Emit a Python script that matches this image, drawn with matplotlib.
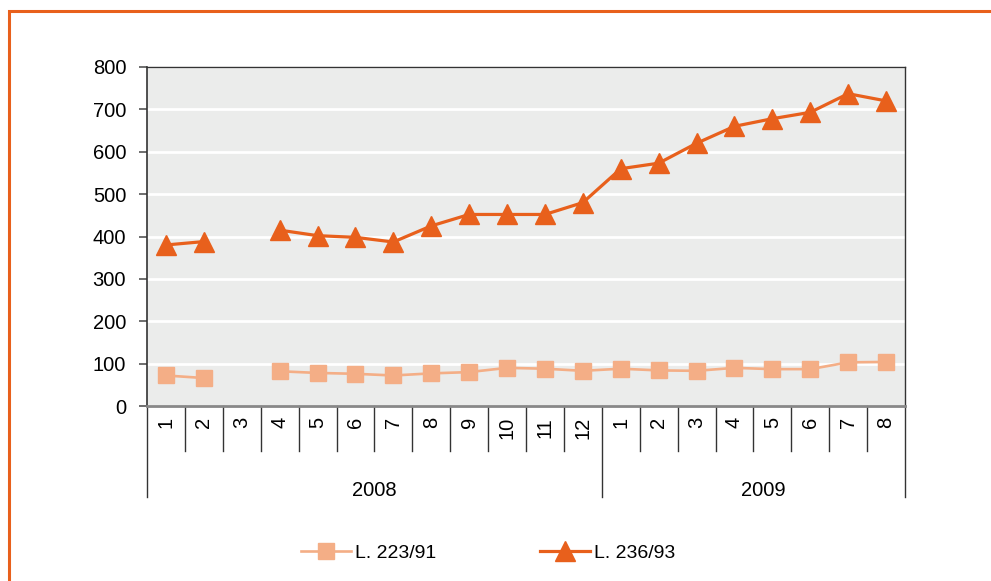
import numpy as np
import matplotlib
matplotlib.use('Agg')
import matplotlib.pyplot as plt
from matplotlib.patches import Rectangle
from matplotlib.transforms import blended_transform_factory

plt.rcParams['font.family'] = ['Liberation Sans', 'DejaVu Sans']

# data
months = ['1', '2', '3', '4', '5', '6', '7', '8', '9', '10', '11', '12',
          '1', '2', '3', '4', '5', '6', '7', '8']
years = ['2008', '2009']
year_sizes = [12, 8]
l223 = [72, 66, np.nan, 82, 78, 76, 72, 77, 80, 90, 88, 83,
        88, 84, 83, 90, 87, 87, 103, 104]
l236 = [380, 388, np.nan, 415, 402, 398, 387, 425, 452, 452, 452, 480,
        560, 573, 620, 660, 678, 693, 737, 720]
y_ticks = [0, 100, 200, 300, 400, 500, 600, 700, 800]

c_light = '#F4AE86'
c_dark = '#E8601C'

W, H = 991, 581
fig = plt.figure(figsize=(W / 100, H / 100), dpi=100)

# orange frame (cut at right and bottom like the reference)
fig.patches.append(Rectangle((9 / W, -0.2), 1.2, 1.2 - 11 / H,
                             transform=fig.transFigure, fill=False,
                             edgecolor=c_dark, linewidth=2.2))

ax = fig.add_axes([147 / W, 1 - 406 / H, 758 / W, 339 / H])
ax.set_facecolor('#EBECEB')
x = np.arange(len(months))

ax.plot(x, l223, color=c_light, lw=1.9, marker='s', ms=12,
        mec=c_light, label='L. 223/91', zorder=3)
ax.plot(x, l236, color=c_dark, lw=2.3, marker='^', ms=14.5,
        mec=c_dark, label='L. 236/93', zorder=4)

ax.set_xlim(-0.5, len(months) - 0.5)
ax.set_ylim(0, 800)
ax.set_yticks(y_ticks)
ax.yaxis.grid(True, color='white', lw=2)
ax.set_axisbelow(True)
ax.tick_params(axis='y', length=6, width=1.2, color='#555555',
               labelsize=14.5, pad=9)
ax.set_xticks(x)
ax.set_xticklabels(months, rotation=90, fontsize=14.5)
ax.tick_params(axis='x', length=0, pad=8)

for s in ['top', 'right']:
    ax.spines[s].set_color('#333333')
    ax.spines[s].set_linewidth(1.0)
ax.spines['left'].set_color('#333333')
ax.spines['left'].set_linewidth(1.2)
ax.spines['bottom'].set_color('#888888')
ax.spines['bottom'].set_linewidth(2)

# category separators and year groups below the axis
tr = blended_transform_factory(ax.transData, ax.transAxes)
short = -45 / 339
long_ = -91 / 339
bounds = [-0.5]
for n in year_sizes:
    bounds.append(bounds[-1] + n)
for b in np.arange(-0.5, len(months)):
    yy = long_ if b in bounds else short
    ax.plot([b, b], [0, yy], transform=tr, color='#333333', lw=1,
            clip_on=False)
year_x = [5.5, 15.75]
for yx, yl in zip(year_x, years):
    ax.text(yx, -84 / 339, yl, transform=tr, ha='center', va='center',
            fontsize=14.5)

fig.legend(loc='center', bbox_to_anchor=(488 / W, 1 - 553 / H), ncol=2,
           frameon=False, fontsize=14, handlelength=2.6, handletextpad=0.2,
           columnspacing=5.3)

fig.savefig('out.png', dpi=100)
